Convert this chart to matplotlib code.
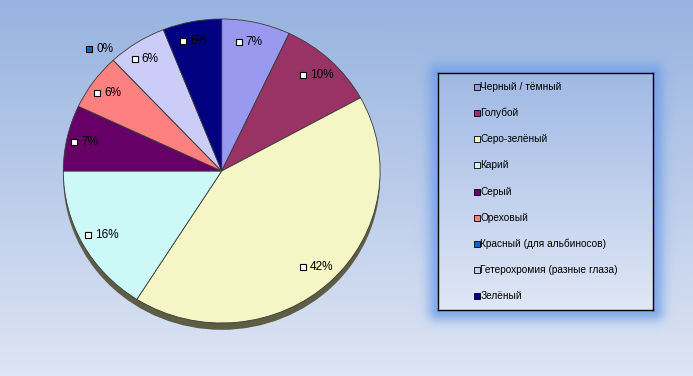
import numpy as np
import matplotlib
matplotlib.use("Agg")
import matplotlib.pyplot as plt
from matplotlib import transforms

plt.rcParams['font.family'] = ['Liberation Sans', 'DejaVu Sans']

# ---- data ----
categories = ["Черный / тёмный", "Голубой", "Серо-зелёный", "Карий", "Серый",
              "Ореховый", "Красный (для альбиносов)", "Гетерохромия (разные глаза)", "Зелёный"]
values = [7, 10, 42, 16, 7, 6, 0, 6, 6]
colors = ["#9999f0", "#993366", "#f5f5c6", "#ccf8f8", "#660066",
          "#ff8080", "#0066cc", "#ccccf8", "#000080"]

W, H = 693, 376
fig = plt.figure(figsize=(W / 100, H / 100), dpi=100)

# ---- background gradient + legend glow ----
yy, xx = np.mgrid[0:H, 0:W]
t = (yy / (H - 1))[..., None]
top = np.array([0x97, 0xb3, 0xe0]) / 255
bot = np.array([0xde, 0xe5, 0xf4]) / 255
img = top * (1 - t) + bot * t
# legend box (pixels, top-based)
lx0, lx1, ly0, ly1 = 438, 653, 73, 310
dx = np.maximum(np.maximum(lx0 - xx, xx - lx1), 0)
dy = np.maximum(np.maximum(ly0 - yy, yy - ly1), 0)
d = np.sqrt(dx ** 2 + dy ** 2)
glow = np.exp(-(d / 11.0) ** 2)[..., None] * 0.8
gcol = np.array([0x6f, 0x9e, 0xe8]) / 255
img = img * (1 - glow) + gcol * glow
bg = fig.add_axes([0, 0, 1, 1])
bg.imshow(img, aspect='auto', extent=[0, W, H, 0], zorder=0)
bg.set_xlim(0, W)
bg.set_ylim(H, 0)
bg.axis('off')

# ---- pie ----
cx0, cx1, cy0, cy1 = 63.3, 380.1, 19, 323
ax = fig.add_axes([cx0 / W, (H - cy1) / H, (cx1 - cx0) / W, (cy1 - cy0) / H])
ax.set_facecolor('none')
# shadow
shadow = matplotlib.patches.Circle((0.0, -0.045), 1.0, facecolor="#5d5c44", edgecolor='none',
                                   zorder=0, clip_on=False)
ax.add_patch(shadow)
wedges, _ = ax.pie(values, colors=colors, startangle=90, counterclock=False, radius=1,
                   wedgeprops=dict(edgecolor="#3a3a3a", linewidth=0.6))
for w in wedges:
    w.set_clip_on(False)
ax.set_aspect('auto')
ax.set_xlim(-1, 1)
ax.set_ylim(-1, 1)
ax.axis('off')

total = sum(values)
for w, v, c in zip(wedges, values, colors):
    ang = np.deg2rad((w.theta1 + w.theta2) / 2)
    r = 0.87 if v > 0 else 1.10
    x, y = r * np.cos(ang), r * np.sin(ang)
    pct = f"{round(100 * v / total)}%"
    sq_col = c if v == 0 else "white"
    tr_sq = transforms.offset_copy(ax.transData, fig=fig, x=-13, y=0, units='dots')
    ax.plot([x], [y], marker='s', markersize=4.3, markerfacecolor=sq_col,
            markeredgecolor='black', markeredgewidth=0.8, transform=tr_sq, zorder=5, clip_on=False)
    tr_tx = transforms.offset_copy(ax.transData, fig=fig, x=-6, y=0, units='dots')
    ax.text(x, y, pct, ha='left', va='center', fontsize=8.5, color='black',
            transform=tr_tx, zorder=5, clip_on=False)

# ---- legend ----
lax = fig.add_axes([lx0 / W, (H - ly1) / H, (lx1 - lx0) / W, (ly1 - ly0) / H])
lg = np.linspace(0, 1, 100)[:, None, None]
ltop = np.array([0xa0, 0xb9, 0xe5]) / 255
lbot = np.array([0xe0, 0xe7, 0xf5]) / 255
limg = ltop * (1 - lg) + lbot * lg
lax.imshow(np.repeat(limg, 2, axis=1), aspect='auto', extent=[lx0, lx1, ly1, ly0], zorder=0)
lax.set_xlim(lx0, lx1)
lax.set_ylim(ly1, ly0)
lax.set_xticks([])
lax.set_yticks([])
for s in lax.spines.values():
    s.set_color('black')
    s.set_linewidth(1.0)

ys = np.linspace(87, 296, len(categories))
for yv, lab, c in zip(ys, categories, colors):
    lax.plot([476.7], [yv], marker='s', markersize=4, markerfacecolor=c,
             markeredgecolor='black', markeredgewidth=0.6, zorder=3)
    lax.text(480.5, yv, lab, ha='left', va='center', fontsize=7.25, color='black', zorder=3)

fig.savefig("out.png", dpi=100)
